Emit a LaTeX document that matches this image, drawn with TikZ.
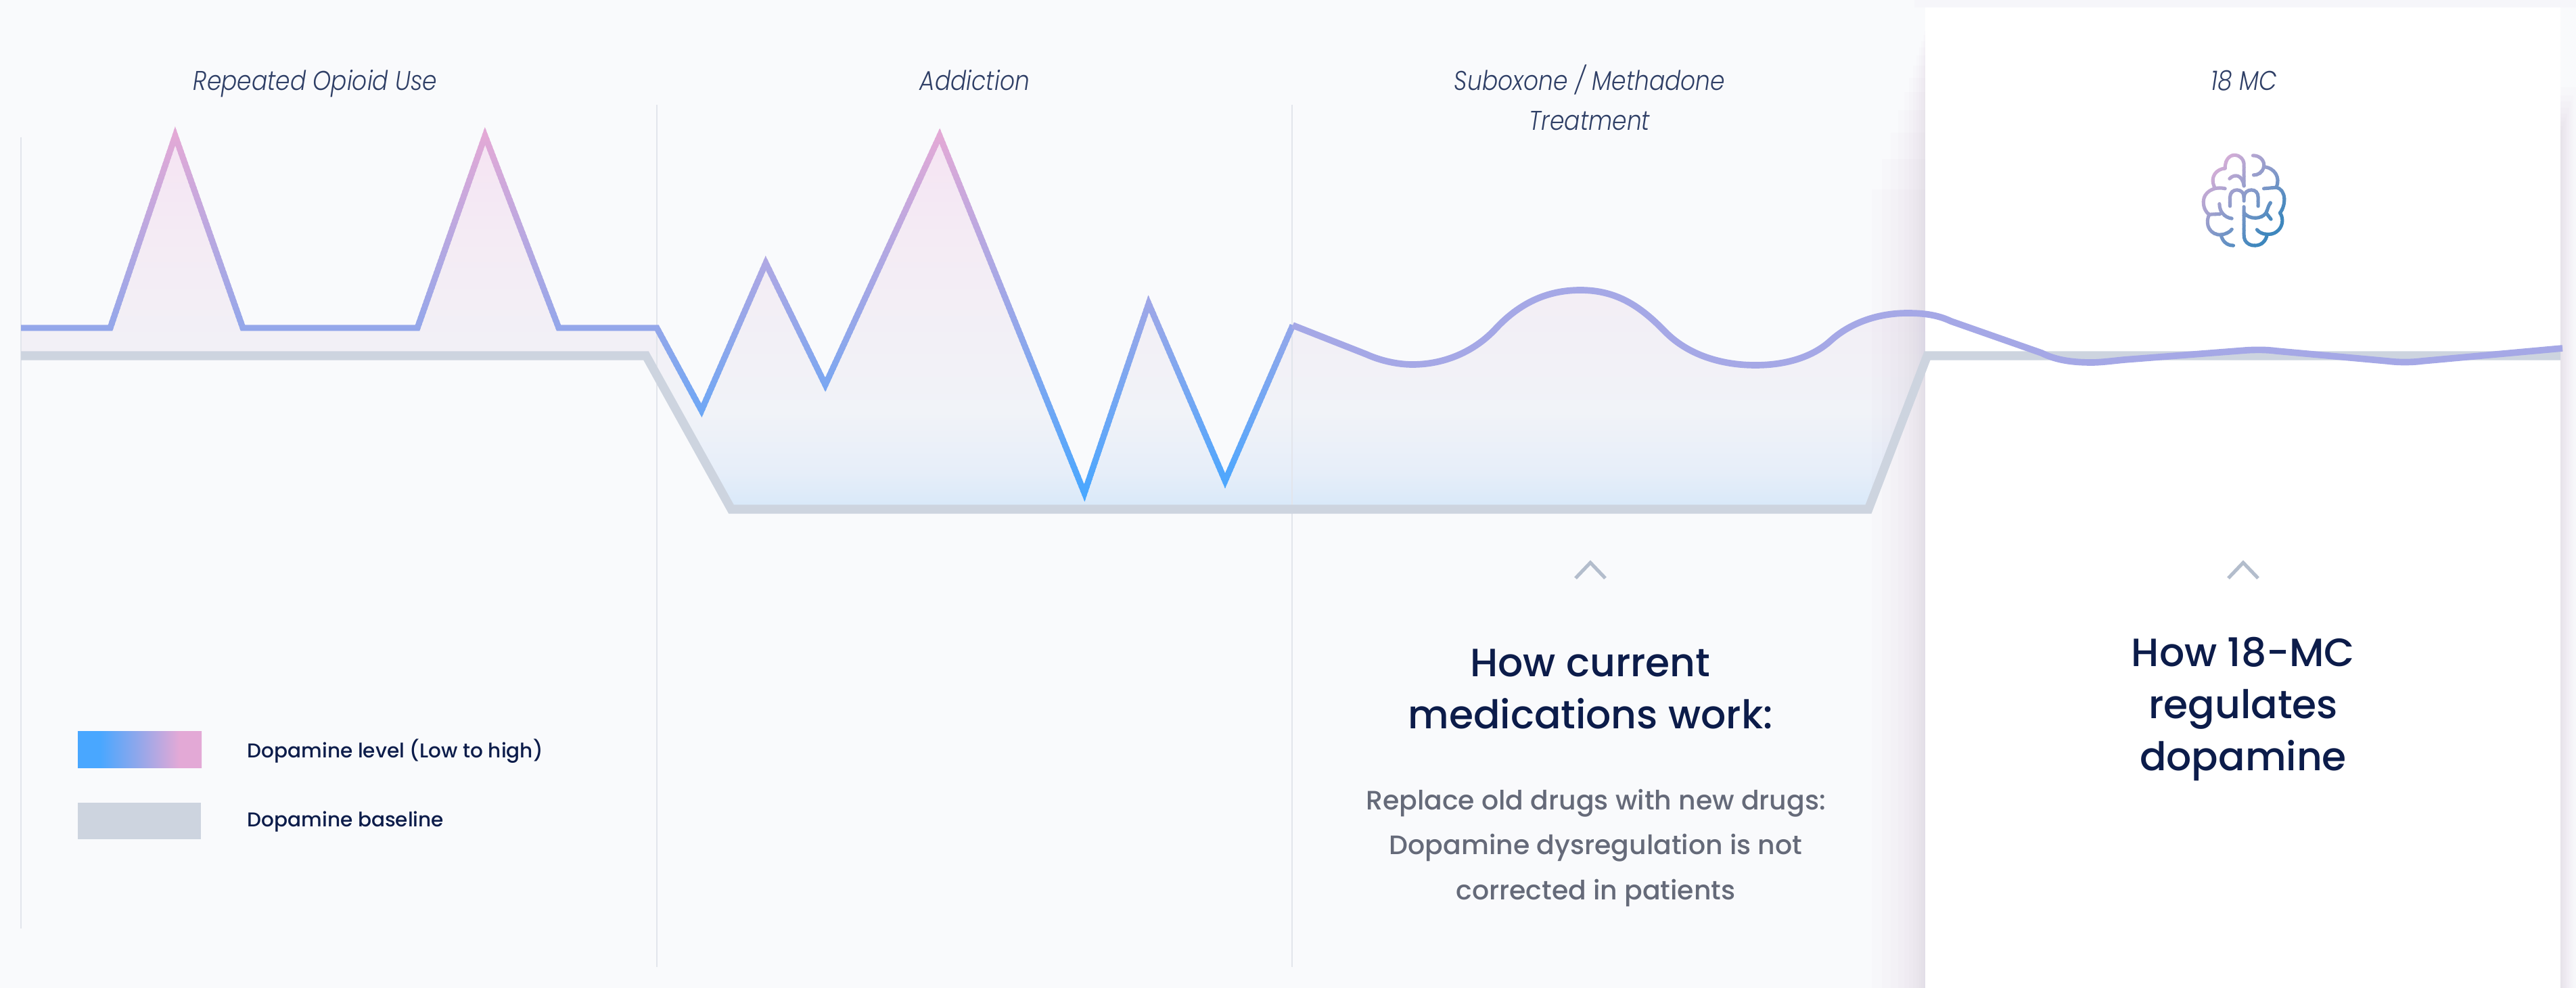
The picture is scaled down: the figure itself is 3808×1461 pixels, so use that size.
\documentclass[tikz,border=0pt]{standalone}
\usepackage{fontspec}
\setmainfont{Poppins}
\newfontfamily\headfont{Poppins Medium}
\newfontfamily\labfont{Poppins Light Italic}[FakeStretch=0.86]
\usetikzlibrary{calc}
\definecolor{bgc}{HTML}{F9FAFC}
\definecolor{vl}{HTML}{E2E5EC}
\definecolor{basec}{HTML}{CDD4DF}
\definecolor{wavec}{HTML}{A5A8E6}
\definecolor{lpink}{HTML}{E3A9D6}
\definecolor{lmid}{HTML}{94A7EA}
\definecolor{lblue}{HTML}{49A7FF}
\definecolor{navy}{HTML}{0C1C4A}
\definecolor{labc}{HTML}{2F3F66}
\definecolor{greyt}{HTML}{656A79}
\definecolor{chev}{HTML}{B3BDCC}
\definecolor{shadowc}{HTML}{B396C0}
\definecolor{f1}{HTML}{F5E3F3}
\definecolor{f2}{HTML}{F4EBF4}
\definecolor{f3}{HTML}{F2F0F6}
\definecolor{f4}{HTML}{F1F3F8}
\definecolor{f5}{HTML}{E6EEF9}
\definecolor{f6}{HTML}{D7E8F9}
\definecolor{brA}{HTML}{DDB0D8}
\definecolor{brB}{HTML}{3E87BD}
\pgfdeclareverticalshading{fillgrad}{100bp}{color(0bp)=(f6);color(25bp)=(f6);color(30bp)=(f5);color(38bp)=(f4);color(47bp)=(f3);color(61bp)=(f2);color(75bp)=(f1);color(100bp)=(f1)}
\pgfdeclarehorizontalshading{legendgrad}{100bp}{color(0bp)=(lblue);color(34bp)=(lblue);color(50bp)=(lmid);color(66bp)=(lpink);color(100bp)=(lpink)}
\newcommand\zigpts{(31,485) -- (163,485) -- (259,201) -- (359,485) -- (617,485) -- (717,201) -- (826,485) -- (971,485) -- (1037,607) -- (1132,389) -- (1220,569) -- (1389,201) -- (1603,729) -- (1698,449) -- (1811,711) -- (1911,481)}
\newcommand\wavea{(1911,481) -- (2020,524) .. controls (2040,533) and (2065,539) .. (2088,539) .. controls (2135,539) and (2180,520) .. (2212,485) .. controls (2245,450) and (2285,429) .. (2336,429) .. controls (2390,429) and (2425,453) .. (2461,490) .. controls (2495,525) and (2545,540) .. (2595,540) .. controls (2640,540) and (2680,528) .. (2707,503) .. controls (2735,478) and (2775,463) .. (2820,463)}
\newcommand\waveb{(2820,463) .. controls (2845,463) and (2865,466) .. (2884,475) -- (3018,522) .. controls (3040,533) and (3065,536) .. (3092,536) .. controls (3105,536) and (3120,534) .. (3140,532) -- (3320,518) .. controls (3335,517) and (3350,517) .. (3365,519) -- (3530,534) .. controls (3545,536) and (3565,536) .. (3580,534) -- (3788,515)}
\newcommand\brainpaths{%
 \draw[brainline] (352,225) -- (352,130) .. controls (352,105) and (330,88) .. (312,88) .. controls (290,88) and (268,105) .. (268,147);
 \draw[brainline] (268,147) .. controls (230,150) and (198,185) .. (222,232);
 \draw[brainline] (268,237) .. controls (215,225) and (172,255) .. (172,295) .. controls (172,325) and (185,345) .. (198,352) -- (245,350);
 \draw[brainline] (243,305) .. controls (243,340) and (265,365) .. (298,370);
 \draw[brainline] (198,352) .. controls (175,400) and (205,445) .. (250,442) .. controls (270,440) and (290,430) .. (298,418);
 \draw[brainline] (250,442) .. controls (255,470) and (275,490) .. (305,490);
 \draw[brainline] (288,193) .. controls (310,170) and (345,175) .. (352,225);
 \draw[brainline] (290,315) -- (290,275) .. controls (290,255) and (305,243) .. (320,243) .. controls (338,243) and (352,255) .. (352,275) -- (352,292);
 \draw[brainline] (352,275) .. controls (352,255) and (368,243) .. (385,243) .. controls (402,243) and (415,255) .. (415,275) -- (415,315);
 \draw[brainline] (352,318) -- (352,445) .. controls (352,475) and (375,490) .. (400,490) .. controls (430,490) and (450,470) .. (455,440);
 \draw[brainline] (410,420) .. controls (430,445) and (475,445) .. (495,430) .. controls (525,410) and (530,370) .. (512,345);
 \draw[brainline] (512,345) .. controls (540,310) and (540,240) .. (495,232) -- (440,237);
 \draw[brainline] (495,232) .. controls (515,190) and (490,145) .. (440,140);
 \draw[brainline] (392,90) .. controls (425,90) and (445,115) .. (440,140) .. controls (435,165) and (415,177) .. (395,177);
 \draw[brainline] (352,345) .. controls (375,375) and (430,375) .. (450,345) .. controls (458,330) and (458,315) .. (470,300);
 \draw[brainline] (450,345) -- (472,373);
}
\tikzset{
 vline/.style={line width=0.75pt,vl},
 baseln/.style={line width=3.7pt,basec,line join=miter,miter limit=10},
 dopa/.style={line width=2.55pt,line join=miter,miter limit=10},
 wave/.style={line width=2.75pt,wavec,line join=round},
 chevron/.style={line width=1.45pt,chev,line cap=butt},
 lab/.style={font=\labfont\fontsize{11.4}{16.8}\selectfont,labc,align=center,anchor=base,inner sep=0},
 head/.style={font=\headfont\fontsize{16.6}{21.8}\selectfont,navy,align=center,anchor=base,inner sep=0},
 bodyt/.style={font=\headfont\fontsize{11.2}{18.9}\selectfont,greyt,align=center,anchor=base,inner sep=0},
 legt/.style={font=\headfont\fontsize{8.4}{12}\selectfont,navy,anchor=base west,inner sep=0},
 brainline/.style={line width=1.45pt,line cap=round,line join=round},
}
\begin{document}
\begin{tikzpicture}[x=0.01cm,y=-0.01cm]
\useasboundingbox (0,0) rectangle (3808,1461);
\fill[bgc] (0,0) rectangle (3808,1461);
% area under the dopamine level
\begin{scope}
 \clip \zigpts -- (2020,524) .. controls (2040,533) and (2065,539) .. (2088,539) .. controls (2135,539) and (2180,520) .. (2212,485) .. controls (2245,450) and (2285,429) .. (2336,429) .. controls (2390,429) and (2425,453) .. (2461,490) .. controls (2495,525) and (2545,540) .. (2595,540) .. controls (2640,540) and (2680,528) .. (2707,503) .. controls (2735,478) and (2775,463) .. (2820,463) -- (2849,466) -- (2849,526) -- (2762,753) -- (1081,753) -- (955,526) -- (31,526) -- cycle;
 \shade[shading=fillgrad] (0,190) rectangle (2900,755);
\end{scope}
% section rules
\draw[vline] (31,203) -- (31,1373);
\draw[vline] (971,155) -- (971,1430);
\draw[vline] (1910,155) -- (1910,1430);
% panel shadow
\foreach \d in {2,4,7,10,14,19,25,32,41,52,65,80}{
 \fill[shadowc,opacity=0.024] ({2847-\d},{40+3*\d}) rectangle (2847,1461);
}
\foreach \d in {2,4,6,8,10,13,16,19,23}{
 \fill[shadowc,opacity=0.024] (3785,{60+6*(23-\d)+3*\d}) rectangle ({3785+\d},1461);
}
\fill[shadowc,opacity=0.03] (2830,0) rectangle (3808,11);
\fill[white] (2846,11) rectangle (3785,1461);
% baseline
\draw[baseln] (31,526) -- (955,526) -- (1081,753) -- (2762,753) -- (2849,526) -- (3785,526);
% dopamine level with vertical colour change
\foreach \y in {180,186,...,756}{
 \begin{scope}
  \clip (0,\y) rectangle (2000,\y+7.5);
  \ifnum\y<485
   \pgfmathsetmacro\tt{max(0,min(100,(\y+3-200)/285*100))}
   \draw[dopa,color=lmid!\tt!lpink] \zigpts;
  \else
   \pgfmathsetmacro\tt{max(0,min(100,(\y+3-485)/245*100))}
   \draw[dopa,color=lblue!\tt!lmid] \zigpts;
  \fi
 \end{scope}
}
\draw[wave] \wavea;
\draw[wave] \waveb;
% titles
\node[lab] (t1) at (466,134) {Repeated Opioid Use};
\node[lab] (t2) at (1441,134) {Addiction};
\node[lab] (t3) at (2350,193) {Suboxone / Methadone\\Treatment};
\node[lab] (t4) at (3317,134) {18 MC};
% brain icon
\begin{scope}[shift={(3200,200)},x=0.00333cm,y=-0.00333cm]
 \foreach \s in {200,220,...,1000}{
  \begin{scope}
   \clip (\s,0) -- (\s+22,0) -- (\s+22-700,700) -- (\s-700,700) -- cycle;
   \pgfmathsetmacro\tt{max(0,min(100,(\s-330)/(880-330)*100))}
   \colorlet{brainc}{brB!\tt!brA}
   \tikzset{brainline/.append style={color=brainc}}
   \brainpaths
  \end{scope}
 }
\end{scope}
% chevrons
\coordinate (c1l) at (2329,855); \coordinate (c1t) at (2351,832); \coordinate (c1r) at (2373,855);
\coordinate (c2l) at (3294,855); \coordinate (c2t) at (3316,832); \coordinate (c2r) at (3338,855);
\draw[chevron] (c1l) -- (c1t) -- (c1r);
\draw[chevron] (c2l) -- (c2t) -- (c2r);
% headings
\node[head] (h1) at (2351,1077) {How current\\medications work:};
\node[head] (h2) at (3316,1139) {How 18-MC\\regulates\\dopamine};
\node[bodyt] (b1) at (2359,1330) {Replace old drugs with new drugs:\\Dopamine dysregulation is not\\corrected in patients};
% legend
\shade[shading=legendgrad] (115,1081) rectangle (298,1135);
\fill[basec] (115,1187) rectangle (297,1241);
\node[legt] (l1) at (365,1120) {Dopamine level (Low to high)};
\node[legt] (l2) at (365,1222) {Dopamine baseline};
\end{tikzpicture}
\end{document}
